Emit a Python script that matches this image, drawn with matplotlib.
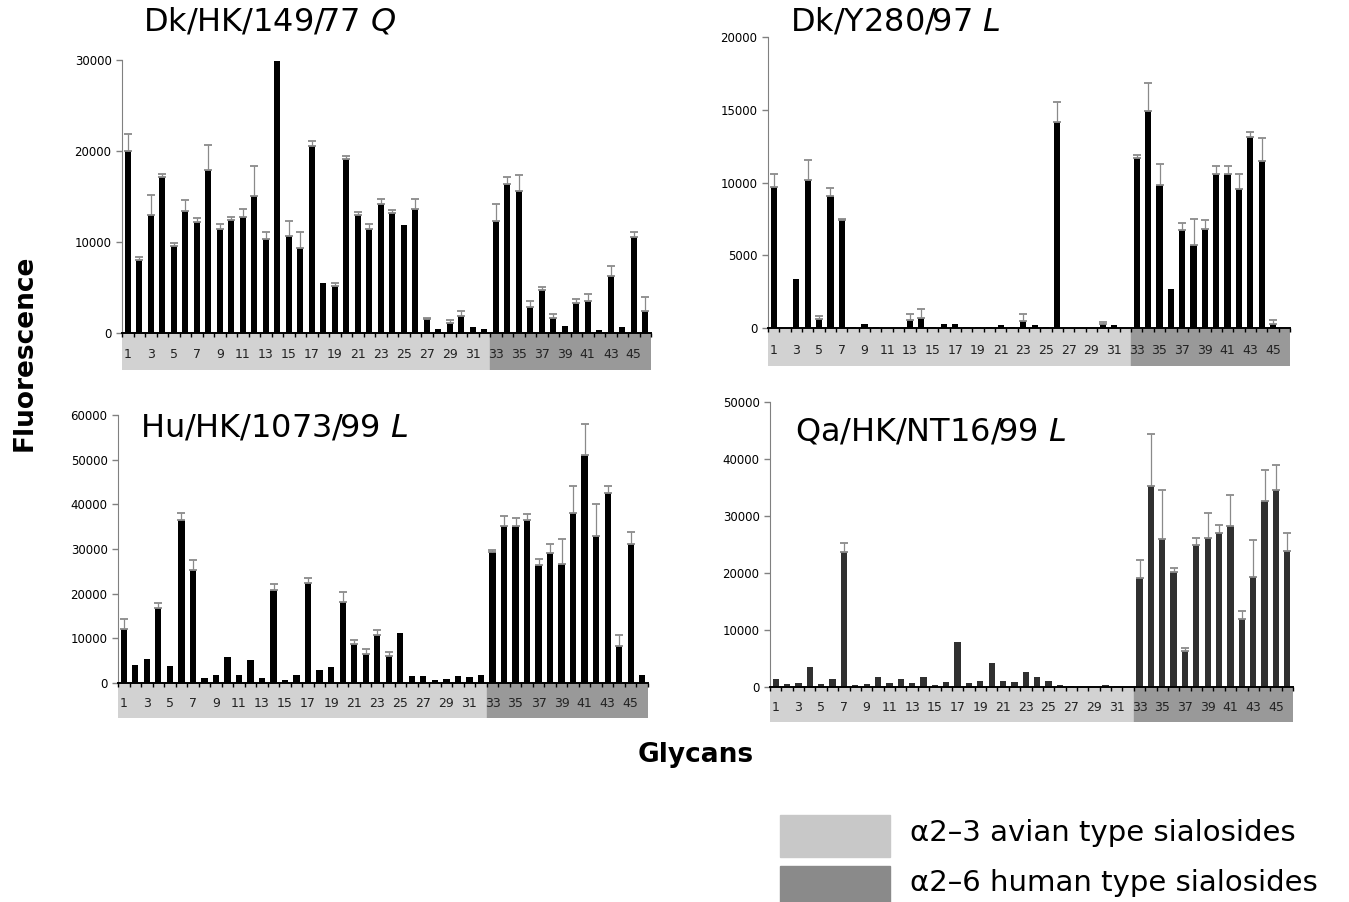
import numpy as np
import matplotlib.pyplot as plt
from matplotlib.patches import Rectangle

# glycan numbers (1-32 alpha2-3, 33-46 alpha2-6)
glycans = np.arange(1, 47)
tick_glycans = np.arange(1, 46, 2)
split_after = 32

# Dk/HK/149/77 Q
dk_hk_vals = [20000, 8000, 13000, 17100, 9600, 13400, 12200, 17900, 11400, 12400,
              12800, 15100, 10300, 29900, 10700, 9300, 20500, 5500, 5200, 19100,
              13000, 11400, 14200, 13200, 11900, 13600, 1500, 450, 1050, 1900,
              650, 450, 12300, 16400, 15600, 2900, 4750, 1600, 800, 3300,
              3550, 350, 6300, 650, 10500, 2400]
dk_hk_err = [1900, 400, 2200, 350, 250, 1250, 400, 2800, 550, 350,
             800, 3200, 750, 0, 1650, 1800, 600, 0, 300, 400,
             300, 550, 550, 350, 0, 1100, 200, 0, 350, 500,
             0, 0, 1900, 750, 1750, 650, 300, 450, 0, 400,
             700, 0, 1050, 0, 550, 1600]

# Dk/Y280/97 L
dk_y280_vals = [9700, 0, 3400, 10200, 600, 9100, 7400, 70, 300, 50,
                30, 30, 550, 700, 40, 250, 300, 50, 40, 50,
                180, 40, 480, 180, 50, 14150, 30, 30, 30, 250,
                180, 30, 11650, 14900, 9800, 2700, 6750, 5700, 6800, 10550,
                10600, 9550, 13150, 11500, 300, 20]
dk_y280_err = [900, 0, 0, 1350, 200, 500, 100, 0, 0, 0,
               0, 0, 400, 600, 0, 0, 0, 0, 0, 0,
               0, 0, 460, 0, 0, 1350, 0, 0, 0, 160,
               0, 0, 250, 1950, 1500, 0, 450, 1800, 650, 550,
               500, 1000, 350, 1550, 230, 0]

# Hu/HK/1073/99 L
hu_hk_vals = [12000, 4100, 5400, 16800, 3700, 36500, 25300, 1100, 1900, 5800,
              1700, 5200, 1200, 20800, 600, 1900, 22400, 2800, 3600, 18100,
              8800, 6600, 10800, 6000, 11200, 1600, 1600, 600, 1000, 1600,
              1350, 1850, 29400, 35100, 35100, 36600, 26400, 29200, 26600, 38000,
              51000, 33000, 42600, 8200, 31200, 1900]
hu_hk_err = [2300, 0, 0, 1200, 0, 1500, 2200, 0, 0, 0,
             0, 0, 0, 1300, 0, 0, 1000, 0, 0, 2300,
             900, 1000, 1100, 900, 0, 0, 0, 0, 0, 0,
             0, 0, 400, 2300, 1900, 1200, 1300, 1900, 5700, 6200,
             7000, 7000, 1600, 2500, 2500, 0]

# Qa/HK/NT16/99 L
qa_hk_vals = [1350, 470, 700, 3450, 470, 1350, 23700, 400, 530, 1700,
              700, 1350, 700, 1700, 350, 820, 7850, 640, 1050, 4150,
              1050, 880, 2630, 1700, 1050, 350, 120, 60, 60, 350,
              100, 60, 19100, 35200, 26000, 20100, 6300, 24900, 26200, 27000,
              28300, 11900, 19300, 32700, 34500, 23800]
qa_hk_err = [0, 0, 0, 0, 0, 0, 1500, 0, 0, 0,
             0, 0, 0, 0, 0, 0, 0, 0, 0, 0,
             0, 0, 0, 0, 0, 0, 0, 0, 0, 0,
             0, 0, 3200, 9100, 8500, 750, 600, 1200, 4300, 1450,
             5400, 1450, 6500, 5300, 4400, 3300]

light_grey = '#d2d2d2'
dark_grey = '#999999'

W, H = 1349, 902
fig = plt.figure(figsize=(W / 100, H / 100), dpi=100)


def px_rect(x0, x1, ytop, ybot):
    # pixel box -> figure fraction [left, bottom, width, height]
    return [x0 / W, 1 - ybot / H, (x1 - x0) / W, (ybot - ytop) / H]


def draw_panel(x0, x1, ytop, ybot, band_bot, vals, errs, ymax, step, color):
    ax = fig.add_axes(px_rect(x0, x1, ytop, ybot))
    vals = np.array(vals, dtype=float)
    errs = np.array(errs, dtype=float)
    ax.bar(glycans, vals, width=0.55, color=color, zorder=2)
    has = errs > 0
    eb = ax.errorbar(glycans[has], vals[has], yerr=[np.zeros(has.sum()), errs[has]],
                     fmt='none', ecolor='#8a8a8a', elinewidth=0.9,
                     capsize=2.8, capthick=1.3, zorder=3)
    for cap in eb[1]:
        cap.set_color('black')
    ax.set_xlim(0.5, 46.5)
    ax.set_ylim(0, ymax)
    ax.set_yticks(np.arange(0, ymax + 1, step))
    ax.tick_params(axis='y', labelsize=8.5, length=4, color='#808080', width=1)
    ax.set_xticks([])
    ax.set_xticks(np.arange(0.5, 47, 1), minor=True)
    ax.tick_params(axis='x', which='minor', length=3, color='black', width=1)
    for s in ['top', 'right']:
        ax.spines[s].set_visible(False)
    ax.spines['left'].set_color('#808080')
    ax.spines['bottom'].set_linewidth(1.4)
    ax.patch.set_alpha(0)

    # coloured glycan band under the axis
    bax = fig.add_axes(px_rect(x0, x1, ybot + 1, band_bot), zorder=-1)
    bax.axvspan(0.5, split_after + 0.5, color=light_grey)
    bax.axvspan(split_after + 0.5, 46.5, color=dark_grey)
    bax.set_xlim(0.5, 46.5)
    bax.set_ylim(0, 1)
    bax.axis('off')
    for g in tick_glycans:
        bax.text(g, 0.42, str(g), ha='center', va='center', fontsize=9, color='#222222')
    return ax


draw_panel(122, 651, 60, 333, 370, dk_hk_vals, dk_hk_err, 30000, 10000, 'black')
draw_panel(768, 1290, 37, 328, 366, dk_y280_vals, dk_y280_err, 20000, 5000, 'black')
draw_panel(118, 648, 415, 683, 718, hu_hk_vals, hu_hk_err, 60000, 10000, 'black')
draw_panel(770, 1293, 402, 687, 722, qa_hk_vals, qa_hk_err, 50000, 10000, '#303030')

title_size = 23
fig.text(143 / W, 1 - 22 / H, r'Dk/HK/149/77 $\mathit{Q}$', fontsize=title_size, va='center')
fig.text(790 / W, 1 - 22 / H, r'Dk/Y280/97 $\mathit{L}$', fontsize=title_size, va='center')
fig.text(140 / W, 1 - 428 / H, r'Hu/HK/1073/99 $\mathit{L}$', fontsize=title_size, va='center')
fig.text(795 / W, 1 - 432 / H, r'Qa/HK/NT16/99 $\mathit{L}$', fontsize=title_size, va='center')

fig.text(25 / W, 1 - 353 / H, 'Fluorescence', fontsize=19, fontweight='bold',
         rotation=90, ha='center', va='center')
fig.text(696 / W, 1 - 755 / H, 'Glycans', fontsize=19, fontweight='bold',
         ha='center', va='center')

# legend boxes
fig.patches.append(Rectangle((780 / W, 1 - 857 / H), 110 / W, 42 / H,
                             transform=fig.transFigure, color='#c8c8c8'))
fig.patches.append(Rectangle((780 / W, 0), 110 / W, 36 / H,
                             transform=fig.transFigure, color='#8a8a8a'))
fig.text(910 / W, 1 - 833 / H, 'α2–3 avian type sialosides', fontsize=21, va='center')
fig.text(910 / W, 1 - 883 / H, 'α2–6 human type sialosides', fontsize=21, va='center')

fig.savefig('out.png', dpi=100)
